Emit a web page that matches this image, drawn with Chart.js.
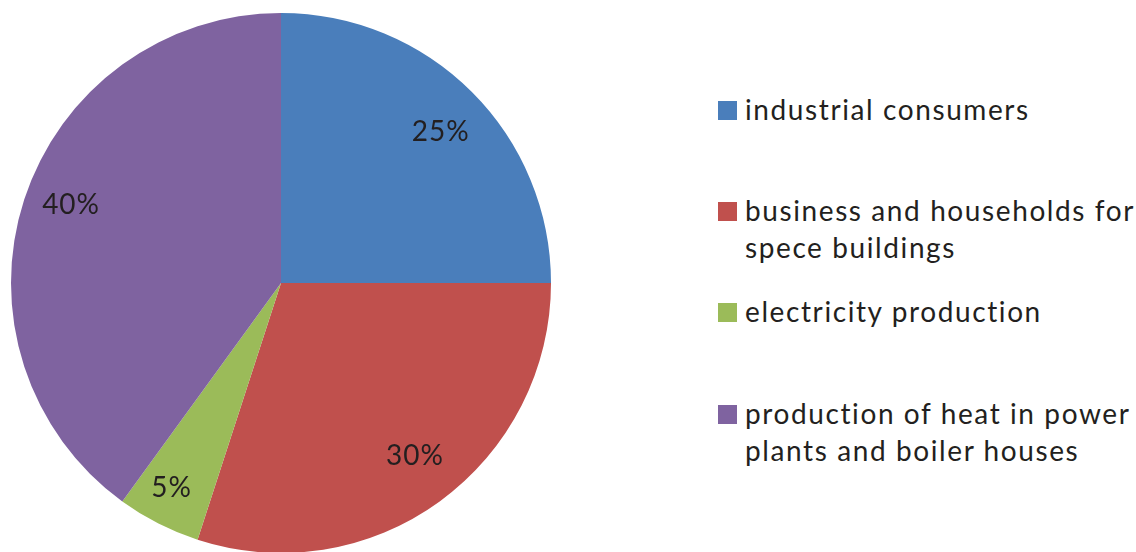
<!DOCTYPE html>
<html>
<head>
<meta charset="utf-8">
<script src="https://cdn.jsdelivr.net/npm/chart.js@4.4.1/dist/chart.umd.min.js"></script>
<style>
  html, body { margin: 0; padding: 0; background: #fff; overflow: hidden; }
  #wrap { position: relative; width: 1136px; height: 552px; }
  #pieBox { position: absolute; left: 0; top: 0; width: 562px; height: 566px; }
  #legend { position: absolute; left: 0; top: 0; font-family: Lato, "Open Sans", sans-serif; font-size: 28px; letter-spacing: 1.6px; color: #231f20; }
  .item { position: absolute; left: 718px; white-space: nowrap; }
  .sw { position: absolute; left: 0; top: 0; width: 19px; height: 19px; }
  .txt { position: absolute; left: 27px; top: -10px; line-height: 36.5px; }
</style>
</head>
<body>
<div id="wrap">
  <div id="pieBox"><canvas id="pie"></canvas></div>
  <div id="legend"></div>
</div>
<script>
// Shares of consumption, percent
const categories = [
  "industrial consumers",
  "business and households for spece buildings",
  "electricity production",
  "production of heat in power plants and boiler houses"
];
// Legend text broken into lines
const legendLines = [
  ["industrial consumers"],
  ["business and households for", "spece buildings"],
  ["electricity production"],
  ["production of heat in power", "plants and boiler houses"]
];
const shares = [25, 30, 5, 40];
const sliceColors = ["#4a7ebb", "#c0504d", "#9bbb59", "#7f63a0"];

// Layout: legend row tops, label distance (fraction of radius) and angular nudge (degrees)
const legendTops = [101, 202, 303, 405];
const labelRadius = [0.815, 0.81, 0.86, 0.83];
const labelNudge = [1.5, -1.8, 1.1, 2.5];

const legend = document.getElementById('legend');
legendLines.forEach((lines, i) => {
  const item = document.createElement('div');
  item.className = 'item';
  item.style.top = legendTops[i] + 'px';
  const sw = document.createElement('div');
  sw.className = 'sw';
  sw.style.background = sliceColors[i];
  item.appendChild(sw);
  const t = document.createElement('div');
  t.className = 'txt';
  t.innerHTML = lines.join('<br>');
  item.appendChild(t);
  legend.appendChild(item);
});

// Percentage labels inside each slice
const sliceLabels = {
  id: 'sliceLabels',
  afterDatasetsDraw(chart) {
    const ctx = chart.ctx;
    const meta = chart.getDatasetMeta(0);
    ctx.save();
    ctx.font = '28px Lato, "Open Sans", sans-serif';
    if ('letterSpacing' in ctx) ctx.letterSpacing = '1px';
    ctx.fillStyle = '#231f20';
    ctx.textAlign = 'center';
    ctx.textBaseline = 'middle';
    meta.data.forEach((arc, i) => {
      const p = arc.getProps(['x', 'y', 'startAngle', 'endAngle', 'outerRadius'], true);
      const mid = (p.startAngle + p.endAngle) / 2 + labelNudge[i] * Math.PI / 180;
      const r = p.outerRadius * labelRadius[i];
      ctx.fillText(shares[i] + '%', p.x + Math.cos(mid) * r, p.y + Math.sin(mid) * r);
    });
    ctx.restore();
  }
};

new Chart(document.getElementById('pie'), {
  type: 'pie',
  data: {
    labels: categories,
    datasets: [{
      data: shares,
      backgroundColor: sliceColors,
      borderWidth: 0
    }]
  },
  options: {
    responsive: true,
    maintainAspectRatio: false,
    animation: false,
    layout: { padding: { left: 11, right: 11, top: 13, bottom: 13 } },
    plugins: {
      legend: { display: false },
      tooltip: { enabled: false }
    }
  },
  plugins: [sliceLabels]
});
</script>
</body>
</html>
